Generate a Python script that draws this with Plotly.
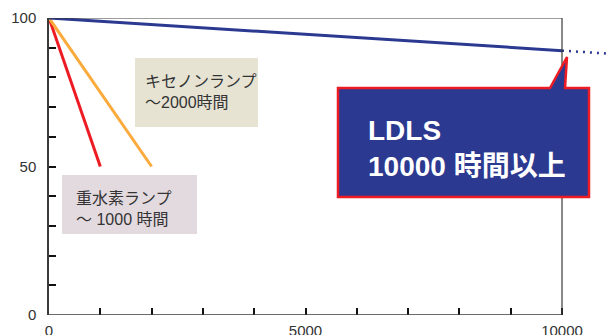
import plotly.graph_objects as go

# Lamp lifetime: relative intensity (%) vs operating hours
hours_d2 = [0, 1000]
intensity_d2 = [100, 50]
hours_xe = [0, 2000]
intensity_xe = [100, 50]
hours_ldls = [0, 10000]
intensity_ldls = [100, 89]
hours_ldls_ext = [10000, 10916]
intensity_ldls_ext = [89, 88]

x_tickvals = list(range(0, 10001, 1000))
x_ticktext = ["0" if v == 0 else ("5000" if v == 5000 else ("10000" if v == 10000 else "")) for v in x_tickvals]
y_tickvals = list(range(0, 101, 10))
y_ticktext = [str(v) if v in (0, 50, 100) else "" for v in y_tickvals]

NAVY = "#2B3990"
RED = "#ED1C24"
ORANGE = "#FBAA3C"
AXIS = "#3a3a3a"
TXT = "#333333"
FONT = "Liberation Sans, Arial, Noto Sans CJK JP, sans-serif"

W, H = 609, 335
ML, MT, MB = 49, 18, 20
PW = W - ML
PH = H - MT - MB


def px(x):
    return (x - ML) / PW


def py(y):
    return (H - MB - y) / PH


fig = go.Figure()
fig.add_trace(go.Scatter(x=hours_d2, y=intensity_d2, mode="lines",
                         line=dict(color=RED, width=3), hoverinfo="skip"))
fig.add_trace(go.Scatter(x=hours_xe, y=intensity_xe, mode="lines",
                         line=dict(color=ORANGE, width=3), hoverinfo="skip"))
fig.add_trace(go.Scatter(x=hours_ldls, y=intensity_ldls, mode="lines",
                         line=dict(color=NAVY, width=3), hoverinfo="skip"))
fig.add_trace(go.Scatter(x=hours_ldls_ext, y=intensity_ldls_ext, mode="lines",
                         line=dict(color=NAVY, width=2.5, dash="2px,5px"), hoverinfo="skip"))

shapes = [
    # plot frame
    dict(type="line", xref="x", yref="y", x0=0, x1=10000, y0=0, y1=0, line=dict(color=AXIS, width=1.5)),
    dict(type="line", xref="x", yref="y", x0=0, x1=10000, y0=100, y1=100, line=dict(color=AXIS, width=1.2)),
    dict(type="line", xref="x", yref="y", x0=10000, x1=10000, y0=0, y1=100, line=dict(color=AXIS, width=1.2)),
    # label boxes
    dict(type="rect", xref="paper", yref="paper", x0=px(135), x1=px(258), y0=py(127), y1=py(58),
         fillcolor="#E6E3D3", line=dict(width=0), layer="below"),
    dict(type="rect", xref="paper", yref="paper", x0=px(62), x1=px(197), y0=py(234), y1=py(175),
         fillcolor="#E3DADF", line=dict(width=0), layer="below"),
]

# callout for LDLS
pts = [(338, 88), (550, 88), (567, 57), (565, 88), (589, 88), (589, 197), (338, 197)]
path = "M " + " L ".join(f"{px(a):.5f},{py(b):.5f}" for a, b in pts) + " Z"
shapes.append(dict(type="path", xref="paper", yref="paper", path=path,
                   fillcolor=NAVY, line=dict(color=RED, width=2.5)))

annotations = [
    dict(xref="paper", yref="paper", x=px(143), y=py(92), xanchor="left", yanchor="middle",
         text="キセノンランプ<br>～2000時間", showarrow=False, align="left",
         font=dict(family=FONT, size=16, color=TXT)),
    dict(xref="paper", yref="paper", x=px(74), y=py(209), xanchor="left", yanchor="middle",
         text="重水素ランプ<br>～ 1000 時間", showarrow=False, align="left",
         font=dict(family=FONT, size=16, color=TXT)),
    dict(xref="paper", yref="paper", x=px(366), y=py(148), xanchor="left", yanchor="middle",
         text="<b>LDLS</b><br><b>10000 時間以上</b>", showarrow=False, align="left",
         font=dict(family=FONT, size=28, color="white")),
]

fig.update_layout(
    width=W, height=H,
    margin=dict(l=ML, r=0, t=MT, b=MB),
    plot_bgcolor="white", paper_bgcolor="white",
    showlegend=False,
    shapes=shapes,
    annotations=annotations,
    xaxis=dict(range=[0, 10916], tickvals=x_tickvals, ticktext=x_ticktext,
               ticks="inside", ticklen=7, tickwidth=1.5, tickcolor="#111",
               showline=False, showgrid=False, zeroline=False, automargin=False,
               tickfont=dict(family=FONT, size=15, color=TXT), ticklabelstandoff=5),
    yaxis=dict(range=[0, 100], tickvals=y_tickvals, ticktext=y_ticktext,
               ticks="inside", ticklen=7, tickwidth=1.5, tickcolor="#111",
               showline=True, linecolor=AXIS, linewidth=1.5, automargin=False,
               showgrid=False, zeroline=False,
               tickfont=dict(family=FONT, size=15, color=TXT), ticklabelstandoff=8),
)

fig.write_html("out.html")
